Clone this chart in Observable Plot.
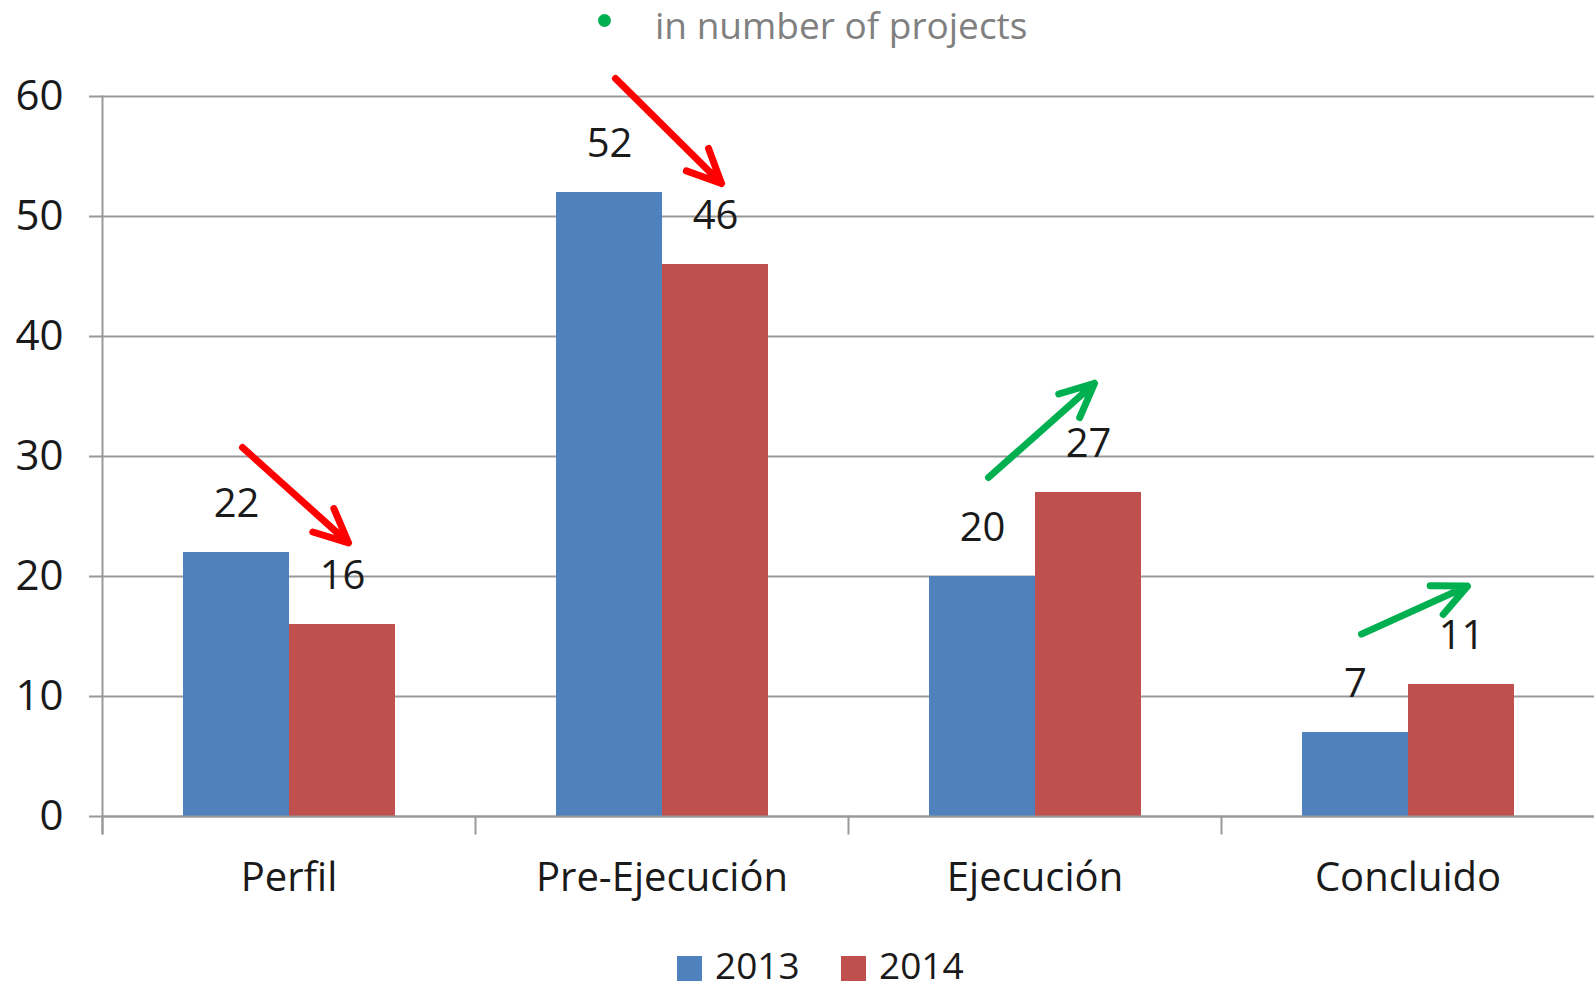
<!DOCTYPE html>
<html>
<head>
<meta charset="utf-8">
<script src="https://cdn.jsdelivr.net/npm/d3@7"></script>
<script src="https://cdn.jsdelivr.net/npm/@observablehq/plot@0.6"></script>
<style>
  html, body { margin: 0; padding: 0; background: #fff; overflow: hidden; }
  #page { position: relative; width: 1595px; height: 990px; font-family: "Open Sans", sans-serif; }
  #title { position: absolute; left: 0; top: 0; width: 1595px; height: 50px; }
  #title .dot { position: absolute; left: 598px; top: 14px; width: 13px; height: 13px; border-radius: 50%; background: #00b050; }
  #title .txt { position: absolute; left: 655px; top: 6px; font-size: 37px; line-height: 37px; color: #808080; white-space: nowrap; }
  #chart { position: absolute; left: 0; top: 50px; }
  #legend { position: absolute; left: 0; top: 916px; width: 1595px; height: 72px; }
  #legend .sw { position: absolute; top: 40px; width: 25px; height: 25px; }
  #legend .lb { position: absolute; top: 34px; font-size: 37px; line-height: 30px; color: #1a1a1a; white-space: nowrap; }
</style>
</head>
<body>
<div id="page">
  <div id="title"><div class="dot"></div><div class="txt">in number of projects</div></div>
  <div id="chart"></div>
  <div id="legend"></div>
</div>
<script>
// ---- data ----
const categories = ["Perfil", "Pre-Ejecución", "Ejecución", "Concluido"];
const years = ["2013", "2014"];
const values2013 = [22, 52, 20, 7];
const values2014 = [16, 46, 27, 11];
const yTicks = [0, 10, 20, 30, 40, 50, 60];
// trend arrows (start value, end value) per category
const arrowStart = [30.75, 61.5, 28.25, 15.2];
const arrowEnd = [22.8, 52.75, 36.1, 19.2];
const seriesColors = ["#4f81bd", "#c0504d"];

// ---- build tables ----
const rows = [];
categories.forEach((c, i) => {
  rows.push({cat: c, year: years[0], value: values2013[i]});
  rows.push({cat: c, year: years[1], value: values2014[i]});
});
const arrows = categories.map((c, i) => ({
  cat: c, y1: arrowStart[i], y2: arrowEnd[i], up: values2014[i] > values2013[i]
}));

const plot = Plot.plot({
  width: 1595,
  height: 866,
  marginLeft: 101,
  marginRight: 0,
  marginTop: 46,
  marginBottom: 100,
  style: {fontFamily: "Open Sans, sans-serif", background: "transparent", overflow: "visible"},
  fx: {domain: categories, padding: 0, label: null},
  x: {domain: years, paddingInner: 0, paddingOuter: 0.755, axis: null},
  y: {domain: [0, 60], label: null},
  color: {domain: years, range: seriesColors},
  marks: [
    Plot.gridY(yTicks, {stroke: "#999", strokeOpacity: 1, strokeWidth: 2}),
    Plot.axisY(yTicks, {tickSize: 13, tickPadding: 26, stroke: "#999", strokeWidth: 2, fontSize: 42, fill: "#1a1a1a", label: null}),
    Plot.axisFx({anchor: "bottom", tickSize: 0, tickPadding: 46, fontSize: 40, fill: "#1a1a1a", label: null}),
    Plot.barY(rows, {fx: "cat", x: "year", y: "value", fill: "year"}),
    Plot.ruleY([0], {stroke: "#999", strokeWidth: 2}),
    Plot.frame({anchor: "left", stroke: "#999", strokeWidth: 2, insetTop: 720, insetBottom: -17}),
    Plot.frame({anchor: "left", facet: "super", stroke: "#999", strokeWidth: 2, insetBottom: -17}),
    Plot.text(rows, {fx: "cat", x: "year", y: "value", text: d => String(d.value), dy: -48, fontSize: 40, fill: "#1a1a1a"}),
    Plot.arrow(arrows.filter(d => !d.up), {fx: "cat", x1: () => years[0], x2: () => years[1], y1: "y1", y2: "y2", dx: 6, stroke: "#ff0000", strokeWidth: 7, headLength: 8, headAngle: 50}),
    Plot.arrow(arrows.filter(d => d.up), {fx: "cat", x1: () => years[0], x2: () => years[1], y1: "y1", y2: "y2", dx: 6, stroke: "#00b050", strokeWidth: 7, headLength: 8, headAngle: 50})
  ]
});
document.getElementById("chart").appendChild(plot);

// ---- legend ----
const legend = document.getElementById("legend");
const legendPos = [677, 841];
years.forEach((y, i) => {
  const sw = document.createElement("div");
  sw.className = "sw";
  sw.style.left = legendPos[i] + "px";
  sw.style.background = seriesColors[i];
  legend.appendChild(sw);
  const lb = document.createElement("div");
  lb.className = "lb";
  lb.style.left = (legendPos[i] + 38) + "px";
  lb.textContent = y;
  legend.appendChild(lb);
});
</script>
</body>
</html>
